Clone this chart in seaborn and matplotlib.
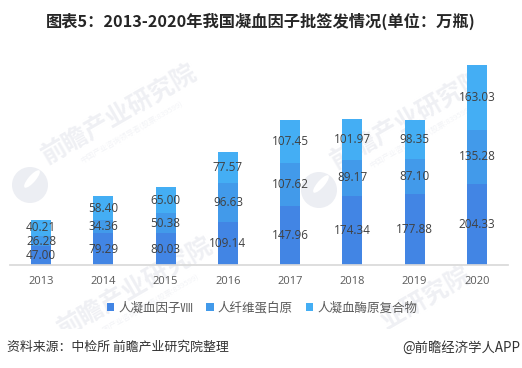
import matplotlib
matplotlib.use("Agg")
import matplotlib.pyplot as plt
from matplotlib.patches import Ellipse, Rectangle
import numpy as np
import pandas as pd
import seaborn as sns

years = ['2013', '2014', '2015', '2016', '2017', '2018', '2019', '2020']
factor8 = [47.00, 79.29, 80.03, 109.14, 147.96, 174.34, 177.88, 204.33]
fibrinogen = [26.28, 34.36, 50.38, 96.63, 107.62, 89.17, 87.10, 135.28]
complex_ = [40.21, 58.40, 65.00, 77.57, 107.45, 101.97, 98.35, 163.03]
series_names = ['人凝血因子Ⅷ', '人纤维蛋白原', '人凝血酶原复合物']
colors = ['#4285E4', '#429AEA', '#44AEF4']

title = '图表5：2013-2020年我国凝血因子批签发情况(单位：万瓶)'
source = '资料来源：中检所 前瞻产业研究院整理'
credit = '@前瞻经济学人APP'
watermark = '前瞻产业研究院'
watermark_sub = '中国产业咨询领导者(股票:839599)'

sns.set_theme(style='white')
plt.rcParams['font.family'] = ['Noto Sans CJK SC', 'DejaVu Sans']

df = pd.DataFrame({'year': years, 'a': factor8, 'b': fibrinogen, 'c': complex_})

fig = plt.figure(figsize=(5.22, 3.68), dpi=100)
ax = fig.add_axes([10 / 522, 1 - 265 / 368, 498 / 522, 215 / 368])


def fx(x):
    return x / 522


def fy(y):
    return 1 - y / 368


# watermark behind the bars
for x, y in [(120, 115), (409, 120), (136, 288)]:
    ax.text(fx(x), fy(y), watermark, color='#eff0f4', fontsize=18, fontweight='bold',
            rotation=30, ha='center', va='center', zorder=0.5,
            transform=fig.transFigure, clip_on=False)
    ax.text(fx(x + 12), fy(y + 18), watermark_sub, color='#f3f4f7', fontsize=5.5,
            rotation=30, ha='center', va='center', zorder=0.5,
            transform=fig.transFigure, clip_on=False)
    lx, ly = x - 90, y + 70
    ax.add_patch(Ellipse((fx(lx), fy(ly)), 36 / 522, 36 / 368, color='#eceef3', lw=0,
                         zorder=0.5, transform=fig.transFigure, clip_on=False))
    ax.add_patch(Ellipse((fx(lx + 2), fy(ly - 6)), 8 / 522, 20 / 368, angle=-30, color='white',
                         lw=0, zorder=0.55, transform=fig.transFigure, clip_on=False))

# the lower right watermark only shows its last characters
ax.text(fx(426), fy(299), watermark[3:], color='#eff0f4', fontsize=18, fontweight='bold',
        rotation=30, ha='center', va='center', zorder=0.5,
        transform=fig.transFigure, clip_on=False)

# white footer hides the lower part of the watermark
ax.add_patch(Rectangle((0, 0), 1, fy(329), color='white', lw=0, zorder=0.6,
                       transform=fig.transFigure, clip_on=False))

# stacked bars
bottom = np.zeros(len(years))
for col, name, color in zip(['a', 'b', 'c'], series_names, colors):
    sns.barplot(data=df, x='year', y=col, bottom=bottom, color=color, width=0.32,
                saturation=1, label=name, ax=ax, zorder=2, linewidth=0)
    ax.bar_label(ax.containers[-1], fmt='%.2f', label_type='center',
                 fontsize=8.5, color='#404040', zorder=3,
                 fontfamily=['Open Sans', 'DejaVu Sans'])
    bottom = bottom + df[col].values

ax.patch.set_alpha(0)
ax.set_xlim(-0.5, 7.5)
ax.set_ylim(0, 540)
ax.set_xlabel('')
ax.set_ylabel('')
ax.set_yticks([])
sns.despine(ax=ax, left=True)
ax.spines['bottom'].set_color('#d9d9d9')
ax.tick_params(axis='x', length=0, pad=8, labelsize=8, labelcolor='#595959')
for t in ax.get_xticklabels():
    t.set_fontfamily(['Open Sans', 'DejaVu Sans'])

leg = ax.legend(loc='center', bbox_to_anchor=(0.506, -0.2), ncol=3, frameon=False,
                fontsize=9, labelcolor='#595959', handlelength=0.6, handleheight=0.6,
                handletextpad=0.3, columnspacing=1.05)
leg.set_zorder(5)

fig.text(0.5, fy(21), title, ha='center', va='center', fontsize=11.7,
         fontweight='bold', color='#262626')
fig.text(fx(7), fy(347), source, ha='left', va='center', fontsize=9.3, color='#333333')
fig.text(fx(520), fy(348), credit, ha='right', va='center', fontsize=9.6, color='#333333')

fig.savefig('out.png', dpi=100)
